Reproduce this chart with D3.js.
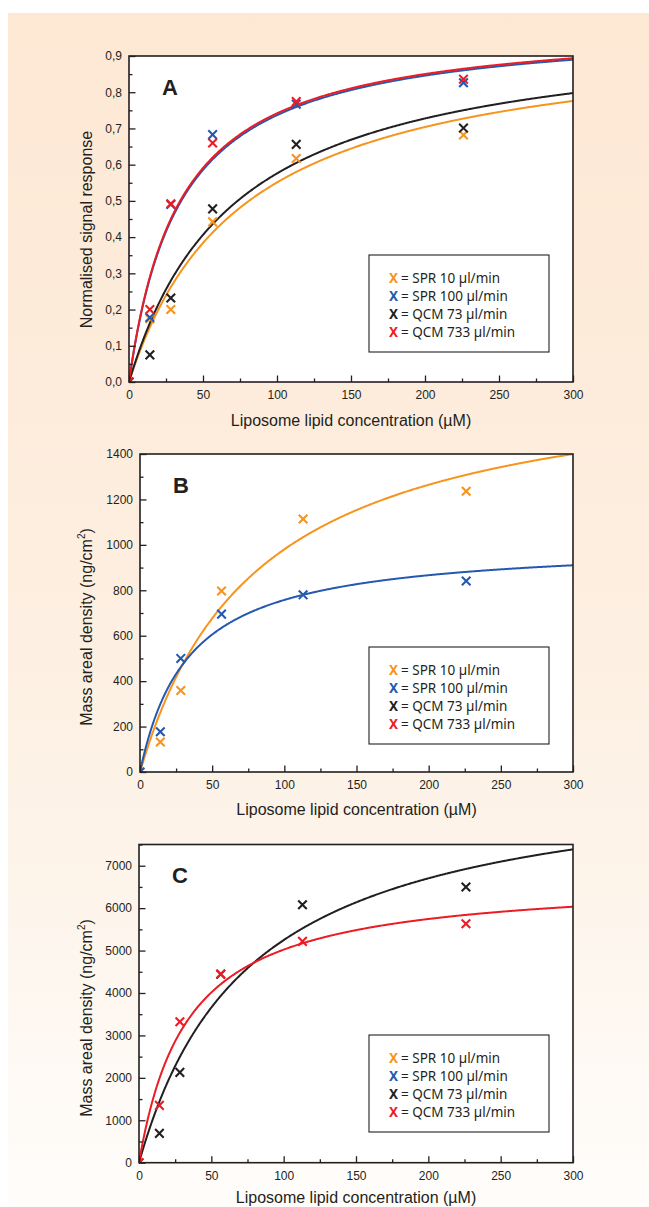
<!DOCTYPE html>
<html>
<head>
<meta charset="utf-8">
<script src="https://cdn.jsdelivr.net/npm/d3@7"></script>
<style>
  html, body { margin: 0; padding: 0; background: #ffffff; }
  svg { display: block; }
</style>
</head>
<body>
<script>
// ---------- DATA ----------
const xConc = [0, 14.1, 28.25, 56.5, 113, 226];
const seriesNames = ["SPR 10 µl/min", "SPR 100 µl/min", "QCM 73 µl/min", "QCM 733 µl/min"];

// Panel A – normalised signal response
const aSpr10  = [0, 0.175, 0.200, 0.442, 0.617, 0.682];
const aSpr100 = [0, 0.178, 0.490, 0.683, 0.767, 0.826];
const aQcm73  = [0, 0.075, 0.232, 0.478, 0.656, 0.701];
const aQcm733 = [0, 0.200, 0.492, 0.660, 0.774, 0.836];
const aFitBmax = [0.975, 0.993, 0.988, 0.996];
const aFitKd   = [77, 34.8, 71.6, 34.3];

// Panel B – SPR mass areal density
const bSpr10  = [0, 132, 359, 797, 1114, 1236];
const bSpr100 = [0, 177, 500, 695, 780, 841];
const bFitBmax = [1781, 1012];
const bFitKd   = [81.7, 33.6];

// Panel C – QCM mass areal density
const cQcm73  = [0, 691, 2129, 4440, 6081, 6497];
const cQcm733 = [0, 1351, 3323, 4447, 5217, 5633];
const cFitBmax = [9276, 6709];
const cFitKd   = [76.8, 33.6];

// Ticks
const xTicks = [0, 50, 100, 150, 200, 250, 300];
const xMinorTicks = [25, 75, 125, 175, 225, 275];
const aYTicks = [0, 0.1, 0.2, 0.3, 0.4, 0.5, 0.6, 0.7, 0.8, 0.9];
const aYTickLabels = ["0,0", "0,1", "0,2", "0,3", "0,4", "0,5", "0,6", "0,7", "0,8", "0,9"];
const aYMinor = [0.05, 0.15, 0.25, 0.35, 0.45, 0.55, 0.65, 0.75, 0.85];
const bYTicks = [0, 200, 400, 600, 800, 1000, 1200, 1400];
const bYMinor = [100, 300, 500, 700, 900, 1100, 1300];
const cYTicks = [0, 1000, 2000, 3000, 4000, 5000, 6000, 7000];
const cYMinor = [500, 1500, 2500, 3500, 4500, 5500, 6500, 7500];

// ---------- STYLE ----------
const colors = ["#f7941d", "#2559b0", "#231f20", "#ec1c24"];
const ink = "#231f20";

const W = 649, H = 1207;
const svg = d3.select("body").append("svg").attr("width", W).attr("height", H);

const defs = svg.append("defs");
const grad = defs.append("linearGradient").attr("id", "bg").attr("x1", 0).attr("y1", 0).attr("x2", 0).attr("y2", 1);
grad.append("stop").attr("offset", "0%").attr("stop-color", "#fde8d4");
grad.append("stop").attr("offset", "45%").attr("stop-color", "#fdeedf");
grad.append("stop").attr("offset", "72%").attr("stop-color", "#fdf4ea");
grad.append("stop").attr("offset", "100%").attr("stop-color", "#fffdfb");
svg.append("rect").attr("x", 8).attr("y", 13).attr("width", W - 8).attr("height", H - 13).attr("fill", "url(#bg)");

const panels = [
  { id: "A", left: 129, right: 573, top: 56, bottom: 382, yMax: 0.9,
    yTicks: aYTicks, yLabels: aYTickLabels, yMinor: aYMinor,
    series: [0, 1, 2, 3], values: [aSpr10, aSpr100, aQcm73, aQcm733],
    fitB: aFitBmax, fitK: aFitKd, ytitleY: 229.5, xtitleOff: 44,
    legendTop: 255, legendBottom: 352 },
  { id: "B", left: 140, right: 573, top: 454, bottom: 772, yMax: 1400,
    yTicks: bYTicks, yLabels: bYTicks.map(String), yMinor: bYMinor,
    series: [0, 1], values: [bSpr10, bSpr100],
    fitB: bFitBmax, fitK: bFitKd, ytitleY: 627, xtitleOff: 43,
    legendTop: 647, legendBottom: 744 },
  { id: "C", left: 139, right: 573, top: 844.5, bottom: 1162.7, yMax: 7500,
    yTicks: cYTicks, yLabels: cYTicks.map(String), yMinor: cYMinor,
    series: [2, 3], values: [cQcm73, cQcm733],
    fitB: cFitBmax, fitK: cFitKd, ytitleY: 1018, xtitleOff: 40,
    legendTop: 1035, legendBottom: 1132 }
];

panels.forEach((p, pi) => {
  const x = d3.scaleLinear().domain([0, 300]).range([p.left, p.right]);
  const y = d3.scaleLinear().domain([0, p.yMax]).range([p.bottom, p.top]);
  const g = svg.append("g");

  g.append("rect").attr("x", p.left).attr("y", p.top)
    .attr("width", p.right - p.left).attr("height", p.bottom - p.top).attr("fill", "#ffffff");

  const clipId = "clip" + p.id;
  defs.append("clipPath").attr("id", clipId).append("rect")
    .attr("x", p.left).attr("y", p.top).attr("width", p.right - p.left).attr("height", p.bottom - p.top);

  const plot = g.append("g").attr("clip-path", `url(#${clipId})`);

  // fitted curves
  const xs = d3.range(0, 300.5, 0.5);
  const line = d3.line().x(d => x(d[0])).y(d => y(d[1]));
  p.series.forEach((s, k) => {
    const B = p.fitB[k], K = p.fitK[k];
    plot.append("path")
      .attr("d", line(xs.map(v => [v, B * v / (K + v)])))
      .attr("fill", "none").attr("stroke", colors[s]).attr("stroke-width", 2);
  });

  // markers
  const hs = 4.3;
  p.series.forEach((s, k) => {
    plot.append("g").selectAll("path").data(p.values[k]).join("path")
      .attr("d", (d, i) => {
        const cx = x(xConc[i]), cy = y(d);
        return `M${cx - hs},${cy - hs}L${cx + hs},${cy + hs}M${cx - hs},${cy + hs}L${cx + hs},${cy - hs}`;
      })
      .attr("stroke", colors[s]).attr("stroke-width", 2.1).attr("fill", "none");
  });

  // axes
  const styleAxis = sel => {
    sel.select(".domain").remove();
    sel.selectAll("line").attr("stroke", ink).attr("stroke-width", 1.3);
    sel.selectAll("text").attr("fill", ink).attr("font-size", 12)
      .attr("font-family", "'Liberation Sans', Arial, sans-serif");
  };
  g.append("g").attr("transform", `translate(0,${p.bottom})`)
    .call(d3.axisBottom(x).tickValues(xTicks).tickFormat(d3.format("d")).tickSizeInner(-6.5).tickSizeOuter(0).tickPadding(8.8))
    .call(styleAxis);
  g.append("g").attr("transform", `translate(0,${p.bottom})`)
    .call(d3.axisBottom(x).tickValues(xMinorTicks).tickFormat("").tickSizeInner(-3.5).tickSizeOuter(0))
    .call(styleAxis);
  g.append("g").attr("transform", `translate(${p.left},0)`)
    .call(d3.axisLeft(y).tickValues(p.yTicks).tickFormat((d, i) => p.yLabels[i]).tickSizeInner(-6.5).tickSizeOuter(0).tickPadding(7))
    .call(styleAxis);
  g.append("g").attr("transform", `translate(${p.left},0)`)
    .call(d3.axisLeft(y).tickValues(p.yMinor).tickFormat("").tickSizeInner(-3.5).tickSizeOuter(0))
    .call(styleAxis);

  // frame
  g.append("rect").attr("x", p.left).attr("y", p.top)
    .attr("width", p.right - p.left).attr("height", p.bottom - p.top)
    .attr("fill", "none").attr("stroke", ink).attr("stroke-width", 1.6);

  // panel letter
  g.append("text").attr("x", p.left + 33).attr("y", p.top + 38.5)
    .attr("font-family", "'Liberation Sans', Arial, sans-serif").attr("font-weight", "bold")
    .attr("font-size", 22).attr("fill", ink).text(p.id);

  // axis titles
  g.append("text").attr("x", (p.left + p.right) / 2).attr("y", p.bottom + p.xtitleOff)
    .attr("text-anchor", "middle").attr("font-family", "'Liberation Sans', Arial, sans-serif")
    .attr("font-size", 16).attr("fill", ink).text("Liposome lipid concentration (µM)");

  const yt = g.append("text").attr("transform", `translate(92,${p.ytitleY}) rotate(-90)`)
    .attr("text-anchor", "middle").attr("font-family", "'Liberation Sans', Arial, sans-serif")
    .attr("font-size", 16).attr("fill", ink);
  if (p.id === "A") {
    yt.text("Normalised signal response");
  } else {
    yt.append("tspan").text("Mass areal density (ng/cm");
    yt.append("tspan").attr("font-size", 10).attr("dy", -7).text("2");
    yt.append("tspan").attr("dy", 7).text(")");
  }

  // legend
  g.append("rect").attr("x", 369).attr("y", p.legendTop)
    .attr("width", 180).attr("height", p.legendBottom - p.legendTop)
    .attr("fill", "#ffffff").attr("stroke", ink).attr("stroke-width", 1.1);
  seriesNames.forEach((name, i) => {
    const t = g.append("text").attr("x", 389).attr("y", p.legendTop + 27.5 + i * 18)
      .attr("font-family", "'Noto Sans', 'Open Sans', sans-serif").attr("font-size", 13.5).attr("fill", ink);
    t.append("tspan").attr("font-weight", "bold").attr("fill", colors[i]).text("X");
    t.append("tspan").attr("dx", 3).text("= " + name);
  });
});
</script>
</body>
</html>
